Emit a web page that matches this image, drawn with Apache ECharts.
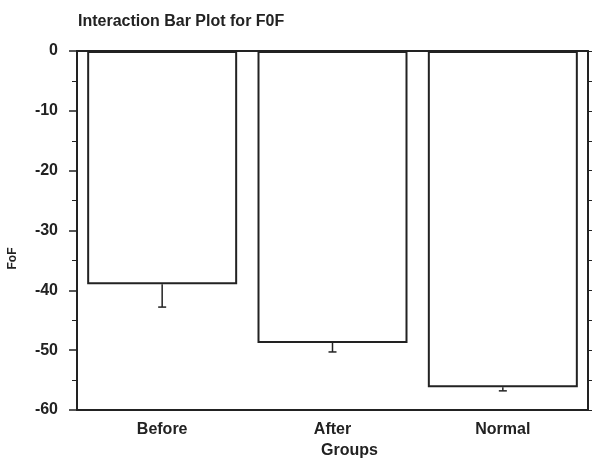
<!DOCTYPE html>
<html>
<head>
<meta charset="utf-8">
<script src="https://cdn.jsdelivr.net/npm/echarts@6/dist/echarts.min.js"></script>
<style>
  html, body { margin: 0; padding: 0; background: #fff; }
  #main { width: 597px; height: 458px; }
</style>
</head>
<body>
<div id="main"></div>
<script>
// 数据
const groups = ['Before', 'After', 'Normal'];
const means = [-39, -48.8, -56.2];
const errLow = [-42.8, -50.3, -56.8];
const yTicks = [0, -10, -20, -30, -40, -50, -60];

const ink = '#222';
const fontFamily = '"Liberation Sans", Arial, sans-serif';

const chart = echarts.init(document.getElementById('main'));

const option = {
  backgroundColor: '#fff',
  animation: false,
  title: {
    text: 'Interaction Bar Plot for F0F',
    left: 73,
    top: 9,
    textStyle: { fontFamily, fontSize: 16, fontWeight: 'bold', color: ink }
  },
  grid: { left: 77, right: 9, top: 51, bottom: 48, outerBoundsMode: 'none' },
  xAxis: [
    {
      type: 'category',
      data: groups,
      position: 'bottom',
      name: 'Groups',
      nameLocation: 'middle',
      nameGap: 31,
      nameTextStyle: { fontFamily, fontSize: 16, fontWeight: 'bold', color: ink, padding: [0, 0, 0, 34] },
      axisLine: { onZero: false, lineStyle: { color: ink, width: 2 } },
      axisTick: { alignWithLabel: true, length: 4, lineStyle: { color: ink } },
      axisLabel: { fontFamily, fontSize: 16, fontWeight: 'bold', color: ink, margin: 12 }
    },
    {
      type: 'category',
      data: groups,
      position: 'top',
      axisLine: { onZero: false, lineStyle: { color: ink, width: 2 } },
      axisTick: { alignWithLabel: true, length: 4, lineStyle: { color: ink } },
      axisLabel: { show: false }
    }
  ],
  yAxis: [
    {
      type: 'value',
      min: -60,
      max: 0,
      interval: 10,
      name: 'FoF',
      nameLocation: 'middle',
      nameGap: 58,
      nameTextStyle: { fontFamily, fontSize: 12, fontWeight: 'bold', color: ink, padding: [0, 56, 0, 0] },
      axisLine: { show: true, lineStyle: { color: ink, width: 2 } },
      axisTick: { show: true, length: 8, lineStyle: { color: ink, width: 1.5 } },
      minorTick: { show: true, splitNumber: 2, length: 5, lineStyle: { color: ink } },
      splitLine: { show: false },
      axisLabel: {
        fontFamily, fontSize: 16, fontWeight: 'bold', color: ink, margin: 19,
        formatter: v => yTicks.includes(v) ? String(v) : ''
      }
    },
    {
      type: 'value',
      position: 'right',
      min: -60,
      max: 0,
      interval: 5,
      axisLine: { show: true, lineStyle: { color: ink, width: 2 } },
      axisTick: { show: true, inside: false, length: 4, lineStyle: { color: ink } },
      splitLine: { show: false },
      axisLabel: { show: false }
    }
  ],
  series: [
    {
      type: 'bar',
      data: means,
      barWidth: 150,
      itemStyle: { color: '#fff', borderColor: ink, borderWidth: 2 }
    },
    {
      type: 'custom',
      data: groups.map((g, i) => [i, means[i], errLow[i]]),
      renderItem: (params, api) => {
        const top = api.coord([api.value(0), api.value(1)]);
        const bot = api.coord([api.value(0), api.value(2)]);
        const cap = 4;
        const style = { stroke: ink, lineWidth: 1.5 };
        return {
          type: 'group',
          children: [
            { type: 'line', shape: { x1: top[0], y1: top[1], x2: bot[0], y2: bot[1] }, style },
            { type: 'line', shape: { x1: bot[0] - cap, y1: bot[1], x2: bot[0] + cap, y2: bot[1] }, style }
          ]
        };
      },
      z: 3
    }
  ]
};

chart.setOption(option);
</script>
</body>
</html>
